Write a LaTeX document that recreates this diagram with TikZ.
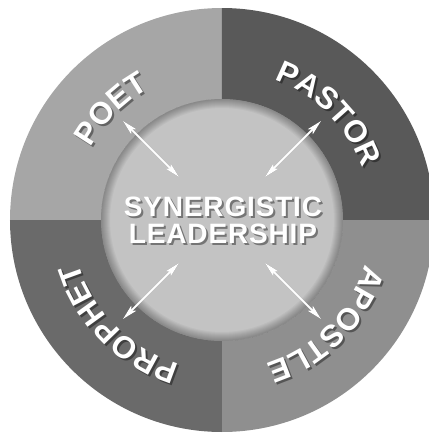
\documentclass[tikz,border=0pt]{standalone}
\usepackage{fontspec}
\setsansfont{Liberation Sans}
\usetikzlibrary{arrows.meta,decorations.text}

\definecolor{poetgray}{HTML}{A6A6A6}
\definecolor{pastorgray}{HTML}{595959}
\definecolor{prophetgray}{HTML}{6A6A6A}
\definecolor{apostlegray}{HTML}{8F8F8F}
\definecolor{coregray}{HTML}{C3C3C3}
\newcommand{\ringfont}{\sffamily\bfseries\fontsize{31}{31}\selectfont}
\newcommand{\corefont}{\sffamily\bfseries\fontsize{28}{27}\selectfont\addfontfeature{LetterSpace=3}}

\tikzset{
  quarter/.style={fill=#1},
  ringlabel/.style={decorate, decoration={text along path, text align=center,
      text color=white, text={|\ringfont|#1}}},
  ringshadow/.style={decorate, decoration={text along path, text align=center,
      text color=black, text={|\ringfont|#1}}},
  link/.style={white, line width=2pt,
      {Stealth[length=15pt,width=7pt,inset=3pt]}-{Stealth[length=15pt,width=7pt,inset=3pt]}},
  linkshadow/.style={link, black}
}

\begin{document}
\begin{tikzpicture}[x=1pt,y=1pt]
\useasboundingbox (-222,-220) rectangle (207,220);
\clip (-222,-220) rectangle (207,220);
% outer ring, four quarters
\fill[quarter=poetgray] (0,0) -- (180:212) arc[start angle=180,end angle=90,radius=212] -- cycle;
\fill[quarter=pastorgray] (0,0) -- (90:212) arc[start angle=90,end angle=0,radius=212] -- cycle;
\fill[quarter=apostlegray] (0,0) -- (0:212) arc[start angle=0,end angle=-90,radius=212] -- cycle;
\fill[quarter=prophetgray] (0,0) -- (-90:212) arc[start angle=-90,end angle=-180,radius=212] -- cycle;
% inner disc with a dark rim
\fill[coregray] (0,0) circle (121);
\foreach \r in {112,...,120}
  \fill[black, opacity=.035, even odd rule] (0,0) circle (121) circle (\r);
% ring labels, clockwise, tops outward
\begin{scope}[shift={(2,-2)}, opacity=.4]
  \path[ringshadow=POET] (165:150) arc[start angle=165,end angle=105,radius=150];
  \path[ringshadow=PASTOR] (75:150) arc[start angle=75,end angle=15,radius=150];
  \path[ringshadow=APOSTLE] (-15:150) arc[start angle=-15,end angle=-75,radius=150];
  \path[ringshadow=PROPHET] (-105:150) arc[start angle=-105,end angle=-165,radius=150];
\end{scope}
\path[ringlabel=POET] (165:150) arc[start angle=165,end angle=105,radius=150];
\path[ringlabel=PASTOR] (75:150) arc[start angle=75,end angle=15,radius=150];
\path[ringlabel=APOSTLE] (-15:150) arc[start angle=-15,end angle=-75,radius=150];
\path[ringlabel=PROPHET] (-105:150) arc[start angle=-105,end angle=-165,radius=150];
% centre text
\node[black, opacity=.4, align=center, inner sep=0pt, font=\corefont] (coreshadow) at (3,-2)
  {SYNERGISTIC\\LEADERSHIP};
\node[white, align=center, inner sep=0pt, font=\corefont] (core) at (1,0)
  {SYNERGISTIC\\LEADERSHIP};
% arrows between disc and ring
\foreach \a in {45,135,225,315} {
  \coordinate (out\a) at (\a:140);
  \coordinate (in\a) at (\a:61);
  \begin{scope}[shift={(1.5,-1.5)}, opacity=.35]
    \draw[linkshadow] (out\a) -- (in\a);
  \end{scope}
  \draw[link] (out\a) -- (in\a);
}
\end{tikzpicture}
\end{document}
